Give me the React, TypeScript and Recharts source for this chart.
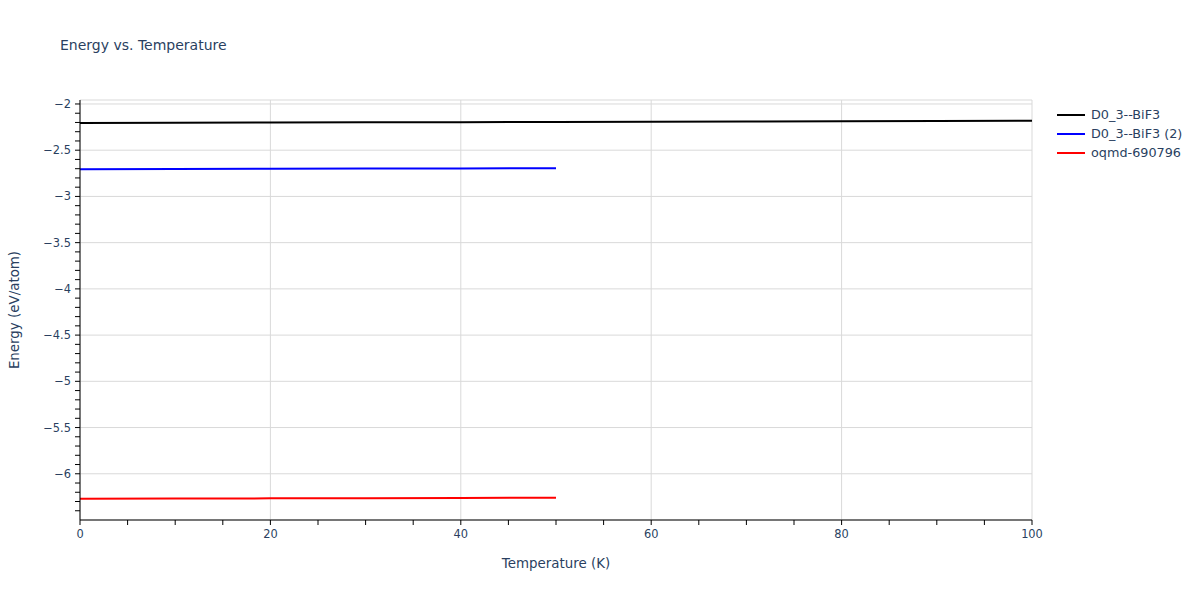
import React from "react"
import { CartesianGrid, Line, LineChart, XAxis, YAxis } from "recharts"

const temps = [0, 10, 20, 30, 40, 50, 60, 70, 80, 90, 100]
const bif3 = [-2.205, -2.203, -2.201, -2.199, -2.197, -2.195, -2.193, -2.19, -2.188, -2.185, -2.182]
const bif3b = [-2.705, -2.703, -2.701, -2.699, -2.697, -2.694]
const oqmd = [-6.27, -6.268, -6.266, -6.264, -6.262, -6.259]

const xMajor = [0, 20, 40, 60, 80, 100]
const xMinor = [0, 5, 10, 15, 20, 25, 30, 35, 40, 45, 50, 55, 60, 65, 70, 75, 80, 85, 90, 95, 100]
const yMajor = [-6, -5.5, -5, -4.5, -4, -3.5, -3, -2.5, -2]
const yMinor = [
  -6.4, -6.3, -6.2, -6.1, -6, -5.9, -5.8, -5.7, -5.6, -5.5, -5.4, -5.3, -5.2, -5.1, -5, -4.9, -4.8, -4.7,
  -4.6, -4.5, -4.4, -4.3, -4.2, -4.1, -4, -3.9, -3.8, -3.7, -3.6, -3.5, -3.4, -3.3, -3.2, -3.1, -3, -2.9,
  -2.8, -2.7, -2.6, -2.5, -2.4, -2.3, -2.2, -2.1, -2,
]

const series = [
  { key: "bif3", name: "D0_3--BiF3", color: "#000000", values: bif3 },
  { key: "bif3b", name: "D0_3--BiF3 (2)", color: "#0000ff", values: bif3b },
  { key: "oqmd", name: "oqmd-690796", color: "#ff0000", values: oqmd },
]

const data = temps.map((t, i) => {
  const row: Record<string, number | undefined> = { t }
  series.forEach((s) => {
    row[s.key] = s.values[i]
  })
  return row
})

const font = '"DejaVu Sans", Verdana, sans-serif'
const textColor = "#2a3f5f"

const isMajor = (v: number, list: number[]) => list.some((m) => Math.abs(m - v) < 1e-6)
const fmt = (v: number) => String(v).replace("-", "\u2212")

export default function App() {
  return (
    <div style={{ position: "absolute", left: 0, top: 0, width: 1200, height: 600, fontFamily: font, background: "#fff" }}>
      <div
        style={{
          position: "absolute",
          left: 60,
          top: 45,
          transform: "translateY(-50%)",
          fontSize: 14,
          color: textColor,
          whiteSpace: "nowrap",
        }}
      >
        Energy vs. Temperature
      </div>
      <LineChart width={1200} height={600} data={data} margin={{ top: 100, right: 168, bottom: 50, left: 30 }}>
        <XAxis xAxisId="grid" dataKey="t" type="number" domain={[0, 100]} ticks={xMajor} hide />
        <YAxis yAxisId="grid" type="number" domain={[-6.5, -1.957]} ticks={yMajor} allowDataOverflow hide />
        <CartesianGrid xAxisId="grid" yAxisId="grid" stroke="#d9d9d9" strokeWidth={1} />
        <XAxis
          dataKey="t"
          type="number"
          domain={[0, 100]}
          ticks={xMinor}
          interval={0}
          height={30}
          stroke="#000"
          tickSize={5}
          tickMargin={5}
          tick={{ fill: textColor, fontSize: 11.4, fontFamily: font }}
          tickFormatter={(v: number) => (isMajor(v, xMajor) ? fmt(v) : "")}
        />
        <YAxis
          type="number"
          domain={[-6.5, -1.957]}
          ticks={yMinor}
          interval={0}
          allowDataOverflow
          width={50}
          stroke="#000"
          tickSize={5}
          tickMargin={4}
          tick={{ fill: textColor, fontSize: 11.4, fontFamily: font }}
          tickFormatter={(v: number) => (isMajor(v, yMajor) ? fmt(v) : "")}
        />
        {series.map((s) => (
          <Line
            key={s.key}
            dataKey={s.key}
            name={s.name}
            stroke={s.color}
            strokeWidth={2}
            dot={false}
            connectNulls={false}
            isAnimationActive={false}
          />
        ))}
      </LineChart>
      <div
        style={{
          position: "absolute",
          left: 14,
          top: 310,
          transform: "translate(-50%, -50%) rotate(-90deg)",
          fontSize: 13.4,
          color: textColor,
          whiteSpace: "nowrap",
        }}
      >
        Energy (eV/atom)
      </div>
      <div
        style={{
          position: "absolute",
          left: 556,
          top: 563,
          transform: "translate(-50%, -50%)",
          fontSize: 13.4,
          color: textColor,
          whiteSpace: "nowrap",
        }}
      >
        Temperature (K)
      </div>
      <div style={{ position: "absolute", left: 1057, top: 105 }}>
        {series.map((s) => (
          <div key={s.key} style={{ display: "flex", alignItems: "center", height: 19 }}>
            <div style={{ width: 28, height: 2, background: s.color, marginRight: 6 }} />
            <span style={{ fontSize: 12.8, color: textColor, whiteSpace: "nowrap" }}>{s.name}</span>
          </div>
        ))}
      </div>
    </div>
  )
}
